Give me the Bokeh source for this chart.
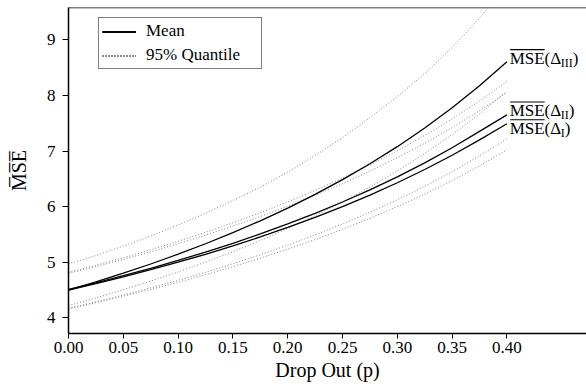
from bokeh.plotting import figure
from bokeh.models import Label, Span, FixedTicker, NumeralTickFormatter, Range1d
from bokeh.embed import file_html
from bokeh.resources import INLINE

# Drop-out probability
p_vals = [0.000, 0.025, 0.050, 0.075, 0.100, 0.125, 0.150, 0.175, 0.200,
          0.225, 0.250, 0.275, 0.300, 0.325, 0.350, 0.375, 0.400]

# Mean curves
mean_I = [4.50, 4.615, 4.737, 4.865, 5.000, 5.143, 5.294, 5.455, 5.625,
          5.806, 6.000, 6.207, 6.429, 6.667, 6.923, 7.200, 7.490]
mean_II = [4.51, 4.630, 4.757, 4.891, 5.032, 5.182, 5.340, 5.509, 5.688,
           5.879, 6.083, 6.301, 6.535, 6.787, 7.059, 7.353, 7.650]
mean_III = [4.50, 4.647, 4.803, 4.968, 5.144, 5.332, 5.532, 5.745, 5.974,
            6.220, 6.485, 6.770, 7.078, 7.413, 7.777, 8.174, 8.605]

# 95% quantile curves
q_hi_III = [4.97, 5.12, 5.29, 5.47, 5.67, 5.88, 6.11, 6.35, 6.62,
            6.92, 7.24, 7.60, 7.98, 8.39, 8.86, 9.39, 10.00]
q_hi_II = [4.82, 4.945, 5.080, 5.225, 5.376, 5.538, 5.709, 5.891, 6.085,
           6.292, 6.513, 6.750, 7.005, 7.280, 7.577, 7.899, 8.247]
q_hi_I = [4.80, 4.920, 5.050, 5.188, 5.332, 5.486, 5.649, 5.822, 6.006,
          6.203, 6.413, 6.638, 6.880, 7.140, 7.420, 7.724, 8.055]
q_lo_III = [4.22, 4.359, 4.505, 4.660, 4.825, 5.001, 5.189, 5.389, 5.604,
            5.834, 6.083, 6.350, 6.639, 6.953, 7.295, 7.667, 8.075]
q_lo_II = [4.172, 4.287, 4.410, 4.539, 4.675, 4.819, 4.972, 5.134, 5.307,
           5.491, 5.688, 5.898, 6.123, 6.366, 6.628, 6.912, 7.219]
q_lo_I = [4.163, 4.272, 4.388, 4.510, 4.639, 4.775, 4.919, 5.072, 5.234,
          5.407, 5.591, 5.789, 6.000, 6.226, 6.470, 6.734, 7.020]

x_ticks = [0.00, 0.05, 0.10, 0.15, 0.20, 0.25, 0.30, 0.35, 0.40]
y_ticks = [4, 5, 6, 7, 8, 9]

# End labels: (subscript, y-position)
label_subs = ["III", "II", "I"]
label_y = [8.66, 7.72, 7.40]

FONT = "Liberation Serif"
X0, X1 = 0.0, 0.4726
Y0, Y1 = 3.718, 9.581
FRAME_W, FRAME_H = 518, 326

p = figure(width=586, height=387, output_backend="svg", toolbar_location=None,
           x_range=Range1d(X0, X1), y_range=Range1d(Y0, Y1),
           min_border_top=7, min_border_right=0, min_border_left=68,
           min_border_bottom=54)
p.outline_line_color = None
p.grid.visible = False
p.background_fill_color = "white"
p.border_fill_color = "white"

QCOL = "#666666"
for q in [q_hi_III, q_hi_II, q_hi_I, q_lo_III, q_lo_II, q_lo_I]:
    p.line(p_vals, q, line_color=QCOL, line_width=0.8, line_dash="1 2",
           legend_label="95% Quantile")
for m in [mean_I, mean_II, mean_III]:
    p.line(p_vals, m, line_color="black", line_width=1.3, legend_label="Mean")

# top border line
p.add_layout(Span(location=Y1, dimension="width", line_color="black", line_width=1.5))

for ax in [p.xaxis[0], p.yaxis[0]]:
    ax.axis_line_width = 1.5
    ax.axis_line_color = "black"
    ax.major_tick_in = 0
    ax.major_tick_line_color = "black"
    ax.minor_tick_line_color = None
    ax.major_label_text_font = FONT
    ax.major_label_text_font_size = "17px"
    ax.major_label_text_color = "black"
    ax.axis_label_text_font = FONT
    ax.axis_label_text_font_size = "20px"
    ax.axis_label_text_font_style = "normal"
    ax.axis_label_text_color = "black"

p.xaxis.ticker = FixedTicker(ticks=x_ticks)
p.xaxis.formatter = NumeralTickFormatter(format="0.00")
p.xaxis.axis_label = "Drop Out (p)"
p.xaxis.major_tick_out = 5
p.xaxis.major_label_standoff = 3
p.xaxis.axis_label_standoff = 3

p.yaxis.ticker = FixedTicker(ticks=y_ticks)
p.yaxis.axis_label = "M\u0305S\u0305E\u0305"
p.yaxis.major_tick_out = 6
p.yaxis.major_label_standoff = 7
p.yaxis.axis_label_standoff = 14

# right-hand curve labels with overline and subscript
px_x = (X1 - X0) / FRAME_W   # data units per pixel
px_y = (Y1 - Y0) / FRAME_H
LX = 0.4025
MAIN_W = 51   # width of "MSE(Δ" at 17px
MSE_W = 35    # width of "MSE" at 17px
sub_w = {"III": 12, "II": 8, "I": 4}
ol_x0, ol_x1, ol_y = [], [], []
for sub, yv in zip(label_subs, label_y):
    p.add_layout(Label(x=LX, y=yv, text="MSE(\u0394", text_font=FONT,
                       text_font_size="17px", text_baseline="middle",
                       text_color="black"))
    p.add_layout(Label(x=LX, y=yv, x_offset=MAIN_W, y_offset=-4, text=sub,
                       text_font=FONT, text_font_size="12px",
                       text_baseline="middle", text_color="black"))
    p.add_layout(Label(x=LX, y=yv, x_offset=MAIN_W + sub_w[sub], text=")",
                       text_font=FONT, text_font_size="17px",
                       text_baseline="middle", text_color="black"))
    ol_x0.append(LX + 0.5 * px_x)
    ol_x1.append(LX + MSE_W * px_x)
    ol_y.append(yv + 9 * px_y)
p.segment(ol_x0, ol_y, ol_x1, ol_y, line_color="black", line_width=1.2)

lg = p.legend[0]
lg.location = (30, 264)
lg.margin = 0
lg.padding = 3
lg.spacing = 4
lg.label_height = 17
lg.glyph_height = 17
lg.glyph_width = 34
lg.label_width = 112
lg.label_standoff = 10
lg.label_text_font = FONT
lg.label_text_font_size = "17px"
lg.label_text_color = "black"
lg.border_line_color = "black"
lg.border_line_width = 1
lg.background_fill_alpha = 1
if lg.items[0].label.value != "Mean":
    lg.items = [lg.items[1], lg.items[0]]

open("out.html", "w").write(file_html(p, INLINE))
